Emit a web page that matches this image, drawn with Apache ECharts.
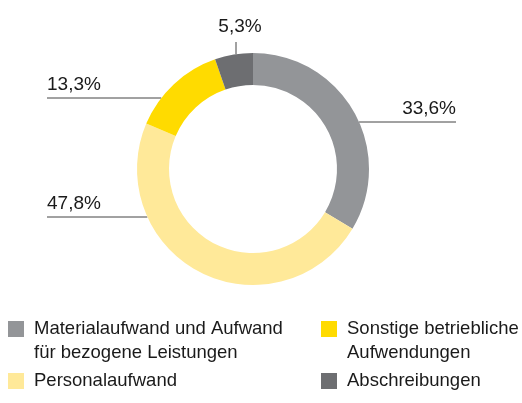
<!DOCTYPE html>
<html>
<head>
<meta charset="utf-8">
<script src="https://cdn.jsdelivr.net/npm/echarts@6/dist/echarts.min.js"></script>
<style>
  html, body { margin: 0; padding: 0; background: #fff; }
  #chart { width: 522px; height: 403px; }
</style>
</head>
<body>
<div id="chart"></div>
<script>
// Kostenstruktur
var names = [
  'Materialaufwand und Aufwand\nfür bezogene Leistungen',
  'Personalaufwand',
  'Sonstige betriebliche\nAufwendungen',
  'Abschreibungen'
];
var values = [33.6, 47.8, 13.3, 5.3];
var colors = ['#939598', '#ffe999', '#ffdb00', '#6d6e71'];

var cx = 253, cy = 169, rIn = 84, rOut = 116;
var font = 'Liberation Sans, Arial, Helvetica, sans-serif';

// wo die Beschriftungen stehen (Linie waagerecht bzw. senkrecht)
var spots = [
  { side: 1, lineY: 122, end: 456 },
  { side: -1, lineY: 217, end: 47 },
  { side: -1, lineY: 98, end: 47 },
  { top: true, lineX: 236, lineTop: 42, textX: 240, textY: 27 }
];

function fmt(v) {
  return v.toFixed(1).replace('.', ',') + '%';
}

var chart = echarts.init(document.getElementById('chart'));

function legendItem(i, left, top, multi) {
  return {
    data: [names[i]],
    left: left,
    top: top,
    padding: 0,
    orient: 'vertical',
    selectedMode: false,
    icon: 'rect',
    itemWidth: 16,
    itemHeight: 16,
    // leere erste Zeile, damit die erste Textzeile auf Höhe des Quadrats steht
    formatter: function (n) { return multi ? '\n' + n : n; },
    textStyle: {
      fontFamily: font,
      fontSize: 18.5,
      color: '#1a1a1a',
      lineHeight: 24,
      padding: [0, 0, 0, 5]
    }
  };
}

chart.setOption({
  animation: false,
  legend: [
    legendItem(0, 8, 293, true),
    legendItem(1, 8, 369, false),
    legendItem(2, 321, 293, true),
    legendItem(3, 321, 369, false)
  ],
  series: [
    {
      type: 'pie',
      center: [cx, cy],
      radius: [rIn, rOut],
      startAngle: 90,
      clockwise: true,
      avoidLabelOverlap: false,
      silent: true,
      label: {
        show: true,
        position: 'outside',
        fontFamily: font,
        fontSize: 19,
        color: '#1a1a1a',
        formatter: function (p) { return fmt(p.value); }
      },
      labelLine: {
        show: true,
        lineStyle: { color: '#444', width: 1 }
      },
      labelLayout: function (p) {
        var s = spots[p.dataIndex];
        if (s.top) {
          var dx = s.lineX - cx;
          var y0 = cy - Math.sqrt(rOut * rOut - dx * dx);
          return {
            x: s.textX, y: s.textY, align: 'center', verticalAlign: 'middle',
            labelLinePoints: [[s.lineX, s.lineTop], [s.lineX, s.lineTop], [s.lineX, y0]]
          };
        }
        var dy = s.lineY - cy;
        var x0 = cx + s.side * Math.sqrt(rOut * rOut - dy * dy);
        return {
          x: s.end, y: s.lineY - 13,
          align: s.side > 0 ? 'right' : 'left', verticalAlign: 'middle',
          labelLinePoints: [[x0, s.lineY], [x0, s.lineY], [s.end, s.lineY]]
        };
      },
      data: names.map(function (n, i) {
        return { name: n, value: values[i], itemStyle: { color: colors[i] } };
      })
    }
  ]
});
</script>
</body>
</html>
